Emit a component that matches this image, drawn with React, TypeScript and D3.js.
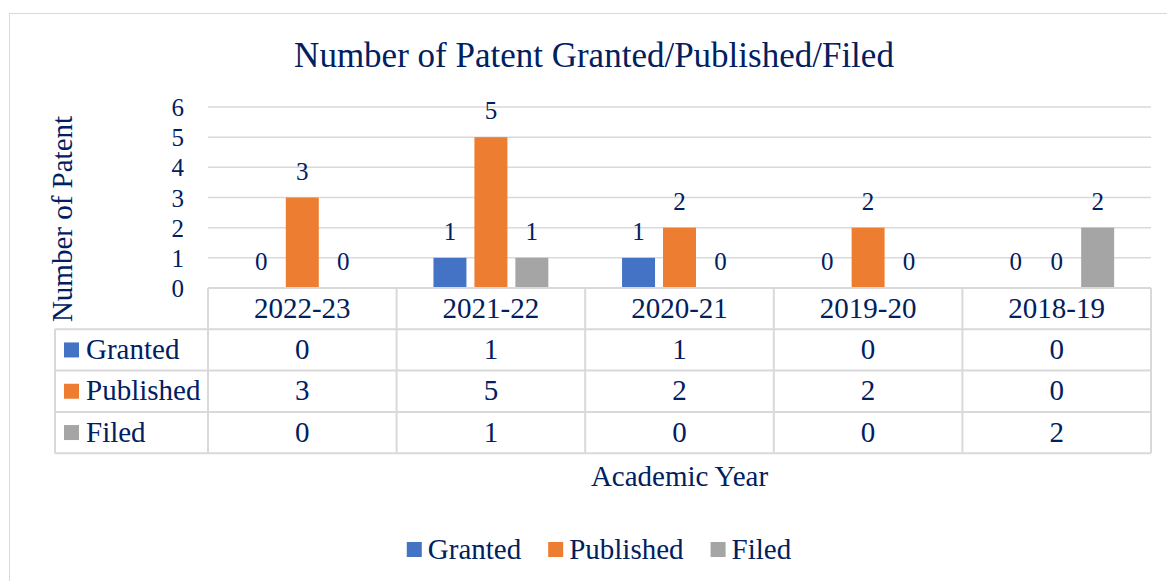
import React, { useEffect, useRef } from "react";
import * as d3 from "d3";

const years = ["2022-23", "2021-22", "2020-21", "2019-20", "2018-19"];
const seriesNames = ["Granted", "Published", "Filed"];
const granted = [0, 1, 1, 0, 0];
const published = [3, 5, 2, 2, 0];
const filed = [0, 1, 0, 0, 2];
const seriesColors = ["#4472C4", "#ED7D31", "#A5A5A5"];
const yTicks = [0, 1, 2, 3, 4, 5, 6];

const W = 1167;
const H = 581;
const TEXT = "#002060";
const GRID = "#D9D9D9";
const FONT = "'Liberation Serif', 'Times New Roman', serif";

export default function App() {
  const ref = useRef<SVGSVGElement>(null);

  useEffect(() => {
    const svg = d3.select(ref.current);
    svg.selectAll("*").remove();
    const values = [granted, published, filed];

    // outer chart frame
    svg.append("rect")
      .attr("x", 9.5).attr("y", 13.5)
      .attr("width", W + 20).attr("height", H + 20)
      .attr("fill", "#fff").attr("stroke", GRID).attr("stroke-width", 1);

    const plotL = 208, plotR = 1151, plotT = 107, plotB = 288;
    const x = d3.scaleBand<string>().domain(years).range([plotL, plotR]);
    const inner = d3.scaleBand<string>().domain(seriesNames)
      .range([0, x.bandwidth()]).paddingInner(0.195).paddingOuter(0.9);
    const y = d3.scaleLinear().domain([0, 6]).range([plotB, plotT]);

    svg.append("text")
      .attr("x", 594).attr("y", 67)
      .attr("text-anchor", "middle")
      .attr("font-size", 35).attr("fill", TEXT)
      .text("Number of Patent Granted/Published/Filed");

    // gridlines
    svg.append("g").selectAll("line").data(yTicks.filter(t => t > 0)).join("line")
      .attr("x1", plotL).attr("x2", plotR)
      .attr("y1", d => y(d)).attr("y2", d => y(d))
      .attr("stroke", GRID).attr("stroke-width", 1.5);

    svg.append("g").selectAll("text").data(yTicks).join("text")
      .attr("x", 184).attr("y", d => y(d) + 9)
      .attr("text-anchor", "end")
      .attr("font-size", 25).attr("fill", TEXT)
      .text(d => d);

    svg.append("text")
      .attr("transform", "translate(72,219) rotate(-90)")
      .attr("text-anchor", "middle")
      .attr("font-size", 29).attr("fill", TEXT)
      .text("Number of Patent");

    // bars and labels
    seriesNames.forEach((s, si) => {
      const g = svg.append("g");
      g.selectAll("rect").data(values[si]).join("rect")
        .attr("x", (d, i) => x(years[i])! + inner(s)!)
        .attr("y", d => y(d))
        .attr("width", inner.bandwidth())
        .attr("height", d => plotB - y(d))
        .attr("fill", seriesColors[si]);
      g.selectAll("text").data(values[si]).join("text")
        .attr("x", (d, i) => x(years[i])! + inner(s)! + inner.bandwidth() / 2)
        .attr("y", d => y(d) - 18)
        .attr("text-anchor", "middle")
        .attr("font-size", 25).attr("fill", TEXT)
        .text(d => d);
    });

    // data table
    const rowH = 41.3;
    const tableL = 55;
    const tableB = plotB + rowH * 4;
    const t = svg.append("g").attr("stroke", GRID).attr("stroke-width", 2);
    t.append("line").attr("x1", plotL).attr("x2", plotR).attr("y1", plotB).attr("y2", plotB);
    d3.range(1, 5).forEach(r => {
      t.append("line").attr("x1", tableL).attr("x2", plotR)
        .attr("y1", plotB + rowH * r).attr("y2", plotB + rowH * r);
    });
    t.append("line").attr("x1", tableL).attr("x2", tableL).attr("y1", plotB + rowH).attr("y2", tableB);
    [...years.map(c => x(c)!), plotR].forEach(vx => {
      t.append("line").attr("x1", vx).attr("x2", vx).attr("y1", plotB).attr("y2", tableB);
    });

    svg.append("g").selectAll("text").data(years).join("text")
      .attr("x", d => x(d)! + x.bandwidth() / 2)
      .attr("y", plotB + rowH / 2 + 9)
      .attr("text-anchor", "middle")
      .attr("font-size", 29).attr("fill", TEXT)
      .text(d => d);

    seriesNames.forEach((s, si) => {
      const cy = plotB + rowH * (si + 1) + rowH / 2;
      svg.append("rect").attr("x", 64).attr("y", cy - 7.5)
        .attr("width", 15).attr("height", 15).attr("fill", seriesColors[si]);
      svg.append("text").attr("x", 86).attr("y", cy + 9)
        .attr("font-size", 29).attr("fill", TEXT).text(s);
      svg.append("g").selectAll("text").data(values[si]).join("text")
        .attr("x", (d, i) => x(years[i])! + x.bandwidth() / 2)
        .attr("y", cy + 9)
        .attr("text-anchor", "middle")
        .attr("font-size", 29).attr("fill", TEXT)
        .text(d => d);
    });

    svg.append("text")
      .attr("x", plotL + (plotR - plotL) / 2).attr("y", 486)
      .attr("text-anchor", "middle")
      .attr("font-size", 29).attr("fill", TEXT)
      .text("Academic Year");

    // legend
    const leg = svg.append("g");
    let lx = 0;
    seriesNames.forEach((s, si) => {
      leg.append("rect").attr("x", lx).attr("y", 542)
        .attr("width", 15).attr("height", 15).attr("fill", seriesColors[si]);
      const txt = leg.append("text").attr("x", lx + 21).attr("y", 559)
        .attr("font-size", 29).attr("fill", TEXT).text(s);
      const w = (txt.node() as SVGTextElement).getComputedTextLength();
      lx += 21 + w + 27;
    });
    const total = lx - 27;
    leg.attr("transform", `translate(${599 - total / 2},0)`);
  }, []);

  return (
    <svg
      ref={ref}
      width={W}
      height={H}
      style={{ position: "absolute", left: 0, top: 0, fontFamily: FONT, background: "#fff" }}
    />
  );
}
